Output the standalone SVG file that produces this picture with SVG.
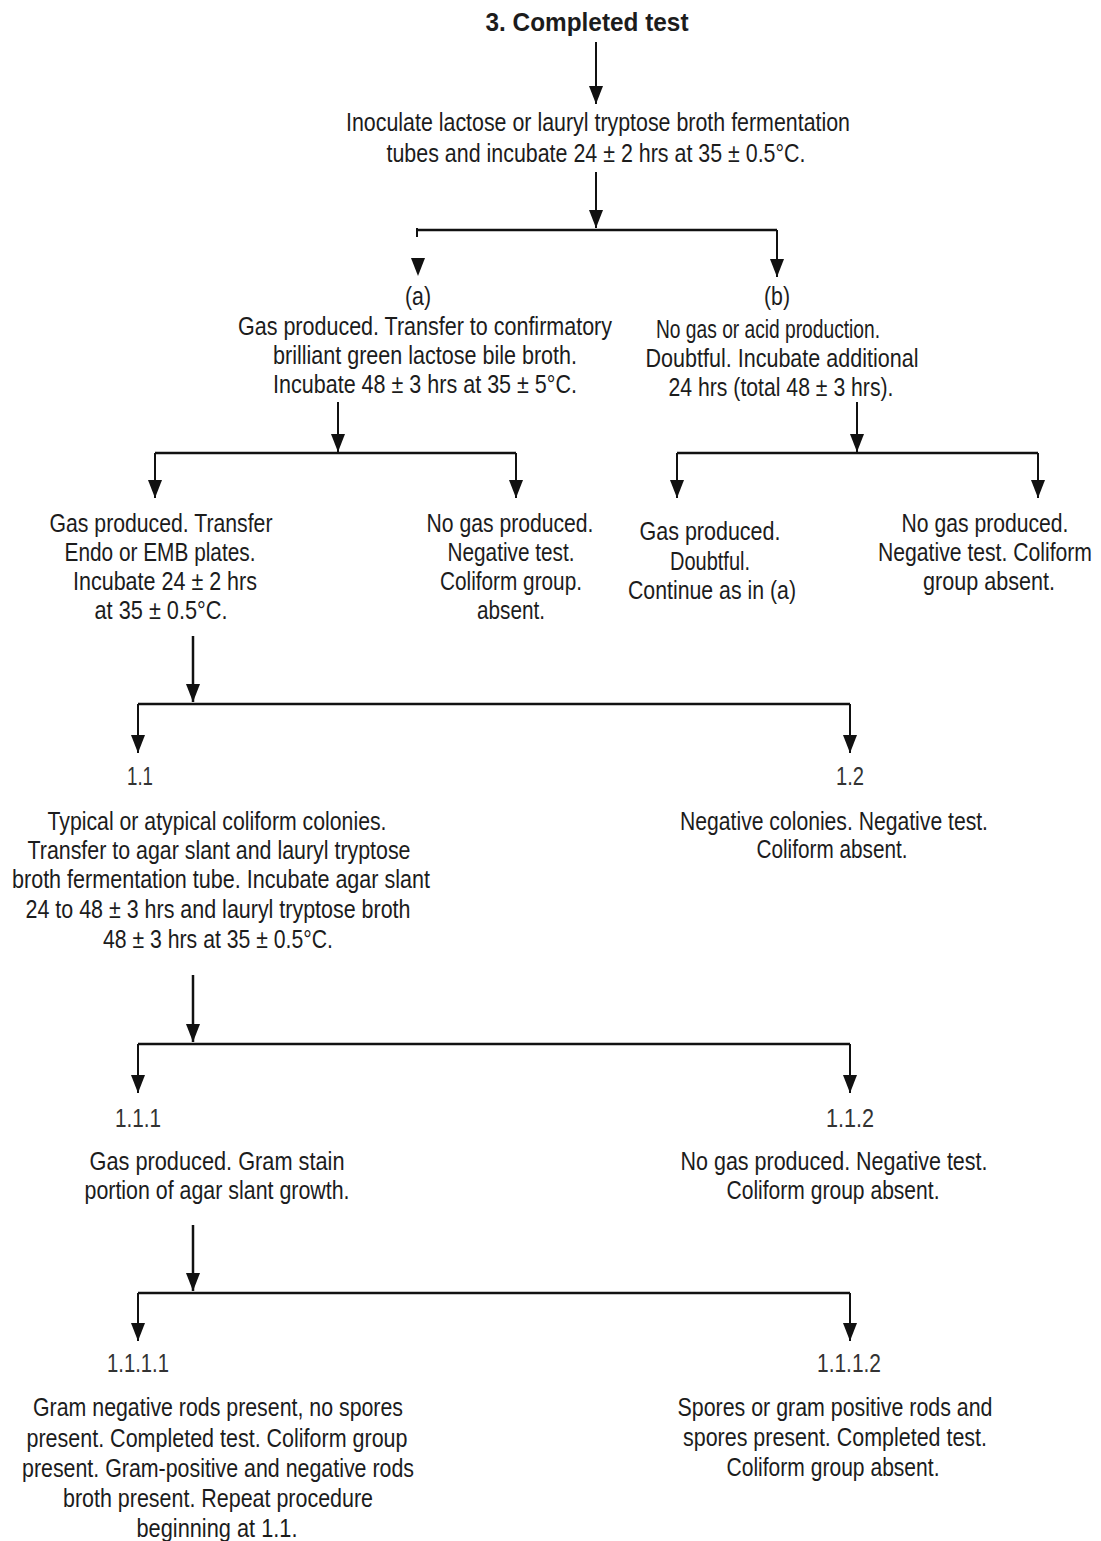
<svg xmlns="http://www.w3.org/2000/svg" width="1101" height="1541" viewBox="0 0 1101 1541">
<style>
text{font-family:"Liberation Sans",Arial,sans-serif;font-size:26px;fill:#1c1c1c;text-anchor:middle}
.title{font-weight:bold;font-size:26px}
.sm{font-size:25px}
.num{fill:#333}
.c{fill:none;stroke:#111;stroke-width:2}
.h{fill:none;stroke:#111;stroke-width:2.5}
.head{fill:#111}
</style>
<defs>
<marker id="ah" viewBox="0 -7 18 14" refX="18" refY="0" markerWidth="18" markerHeight="14" markerUnits="userSpaceOnUse" orient="auto">
<path d="M0,-7 L18,0 L0,7 z" fill="#111"/>
</marker>
</defs>
<rect width="1101" height="1541" fill="#fff"/>

<g id="connectors">
<path class="c" d="M596,42 V104" marker-end="url(#ah)"/>
<path class="c" d="M596,172 V228" marker-end="url(#ah)"/>
<path class="h" d="M417,230 H777"/>
<path class="c" d="M417,228 V237"/>
<polygon class="head" points="411,258 425,258 418,276"/>
<path class="c" d="M777,230 V277" marker-end="url(#ah)"/>

<path class="c" d="M338,402 V452" marker-end="url(#ah)"/>
<path class="h" d="M155,453 H516"/>
<path class="c" d="M155,453 V498" marker-end="url(#ah)"/>
<path class="c" d="M516,453 V498" marker-end="url(#ah)"/>

<path class="c" d="M857,402 V452" marker-end="url(#ah)"/>
<path class="h" d="M677,453 H1038"/>
<path class="c" d="M677,453 V498" marker-end="url(#ah)"/>
<path class="c" d="M1038,453 V498" marker-end="url(#ah)"/>

<path class="h" d="M193,636 V702" marker-end="url(#ah)"/>
<path class="h" d="M138,704 H850"/>
<path class="c" d="M138,704 V753" marker-end="url(#ah)"/>
<path class="c" d="M850,704 V753" marker-end="url(#ah)"/>

<path class="h" d="M193,975 V1042" marker-end="url(#ah)"/>
<path class="h" d="M138,1044 H850"/>
<path class="c" d="M138,1044 V1093" marker-end="url(#ah)"/>
<path class="c" d="M850,1044 V1093" marker-end="url(#ah)"/>

<path class="h" d="M193,1225 V1291" marker-end="url(#ah)"/>
<path class="h" d="M138,1293 H850"/>
<path class="c" d="M138,1293 V1341" marker-end="url(#ah)"/>
<path class="c" d="M850,1293 V1341" marker-end="url(#ah)"/>
</g>

<g id="title">
<text class="title" x="587" y="31" textLength="203" lengthAdjust="spacingAndGlyphs">3. Completed test</text>
</g>

<g id="inoculate">
<text x="598" y="131" textLength="504" lengthAdjust="spacingAndGlyphs">Inoculate lactose or lauryl tryptose broth fermentation</text>
<text x="596" y="162" textLength="419" lengthAdjust="spacingAndGlyphs">tubes and incubate 24 ± 2 hrs at 35 ± 0.5°C.</text>
</g>

<g id="node-a">
<text x="418" y="305" textLength="26" lengthAdjust="spacingAndGlyphs">(a)</text>
<text x="425" y="335" textLength="374" lengthAdjust="spacingAndGlyphs">Gas produced. Transfer to confirmatory</text>
<text x="425" y="364" textLength="304" lengthAdjust="spacingAndGlyphs">brilliant green lactose bile broth.</text>
<text x="425" y="393" textLength="304" lengthAdjust="spacingAndGlyphs">Incubate 48 ± 3 hrs at 35 ± 5°C.</text>
</g>

<g id="node-b">
<text x="777" y="305" textLength="26" lengthAdjust="spacingAndGlyphs">(b)</text>
<text x="768" y="338" textLength="224" lengthAdjust="spacingAndGlyphs">No gas or acid production.</text>
<text x="782" y="367" textLength="273" lengthAdjust="spacingAndGlyphs">Doubtful. Incubate additional</text>
<text x="781" y="396" textLength="225" lengthAdjust="spacingAndGlyphs">24 hrs (total 48 ± 3 hrs).</text>
</g>

<g id="node-a1">
<text x="161" y="532" textLength="223" lengthAdjust="spacingAndGlyphs">Gas produced. Transfer</text>
<text x="160" y="561" textLength="191" lengthAdjust="spacingAndGlyphs">Endo or EMB plates.</text>
<text x="165" y="590" textLength="184" lengthAdjust="spacingAndGlyphs">Incubate 24 ± 2 hrs</text>
<text x="161" y="619" textLength="133" lengthAdjust="spacingAndGlyphs">at 35 ± 0.5°C.</text>
</g>

<g id="node-a2">
<text x="510" y="532" textLength="167" lengthAdjust="spacingAndGlyphs">No gas produced.</text>
<text x="511" y="561" textLength="127" lengthAdjust="spacingAndGlyphs">Negative test.</text>
<text x="511" y="590" textLength="142" lengthAdjust="spacingAndGlyphs">Coliform group.</text>
<text x="511" y="619" textLength="68" lengthAdjust="spacingAndGlyphs">absent.</text>
</g>

<g id="node-b1">
<text x="710" y="540" textLength="141" lengthAdjust="spacingAndGlyphs">Gas produced.</text>
<text x="710" y="570" textLength="80" lengthAdjust="spacingAndGlyphs">Doubtful.</text>
<text x="712" y="599" textLength="168" lengthAdjust="spacingAndGlyphs">Continue as in (a)</text>
</g>

<g id="node-b2">
<text class="sm" x="985" y="532" textLength="167" lengthAdjust="spacingAndGlyphs">No gas produced.</text>
<text class="sm" x="985" y="561" textLength="214" lengthAdjust="spacingAndGlyphs">Negative test. Coliform</text>
<text class="sm" x="989" y="590" textLength="132" lengthAdjust="spacingAndGlyphs">group absent.</text>
</g>

<g id="node-1-1">
<text class="num" x="140" y="785" textLength="26" lengthAdjust="spacingAndGlyphs">1.1</text>
<text x="217" y="830" textLength="339" lengthAdjust="spacingAndGlyphs">Typical or atypical coliform colonies.</text>
<text x="219" y="859" textLength="383" lengthAdjust="spacingAndGlyphs">Transfer to agar slant and lauryl tryptose</text>
<text x="221" y="888" textLength="418" lengthAdjust="spacingAndGlyphs">broth fermentation tube. Incubate agar slant</text>
<text x="218" y="918" textLength="385" lengthAdjust="spacingAndGlyphs">24 to 48 ± 3 hrs and lauryl tryptose broth</text>
<text x="218" y="948" textLength="230" lengthAdjust="spacingAndGlyphs">48 ± 3 hrs at 35 ± 0.5°C.</text>
</g>

<g id="node-1-2">
<text class="num" x="850" y="785" textLength="28" lengthAdjust="spacingAndGlyphs">1.2</text>
<text x="834" y="830" textLength="308" lengthAdjust="spacingAndGlyphs">Negative colonies. Negative test.</text>
<text x="832" y="858" textLength="151" lengthAdjust="spacingAndGlyphs">Coliform absent.</text>
</g>

<g id="node-1-1-1">
<text class="num" x="138" y="1127" textLength="46" lengthAdjust="spacingAndGlyphs">1.1.1</text>
<text x="217" y="1170" textLength="255" lengthAdjust="spacingAndGlyphs">Gas produced. Gram stain</text>
<text x="217" y="1199" textLength="265" lengthAdjust="spacingAndGlyphs">portion of agar slant growth.</text>
</g>

<g id="node-1-1-2">
<text class="num" x="850" y="1127" textLength="48" lengthAdjust="spacingAndGlyphs">1.1.2</text>
<text x="834" y="1170" textLength="307" lengthAdjust="spacingAndGlyphs">No gas produced. Negative test.</text>
<text x="833" y="1199" textLength="213" lengthAdjust="spacingAndGlyphs">Coliform group absent.</text>
</g>

<g id="node-1-1-1-1">
<text class="num" x="138" y="1372" textLength="62" lengthAdjust="spacingAndGlyphs">1.1.1.1</text>
<text x="218" y="1416" textLength="370" lengthAdjust="spacingAndGlyphs">Gram negative rods present, no spores</text>
<text x="217" y="1447" textLength="381" lengthAdjust="spacingAndGlyphs">present. Completed test. Coliform group</text>
<text x="218" y="1477" textLength="392" lengthAdjust="spacingAndGlyphs">present. Gram-positive and negative rods</text>
<text x="218" y="1507" textLength="310" lengthAdjust="spacingAndGlyphs">broth present. Repeat procedure</text>
<text x="217" y="1537" textLength="161" lengthAdjust="spacingAndGlyphs">beginning at 1.1.</text>
</g>

<g id="node-1-1-1-2">
<text class="num" x="849" y="1372" textLength="64" lengthAdjust="spacingAndGlyphs">1.1.1.2</text>
<text x="835" y="1416" textLength="315" lengthAdjust="spacingAndGlyphs">Spores or gram positive rods and</text>
<text x="835" y="1446" textLength="304" lengthAdjust="spacingAndGlyphs">spores present. Completed test.</text>
<text x="833" y="1476" textLength="213" lengthAdjust="spacingAndGlyphs">Coliform group absent.</text>
</g>
</svg>
